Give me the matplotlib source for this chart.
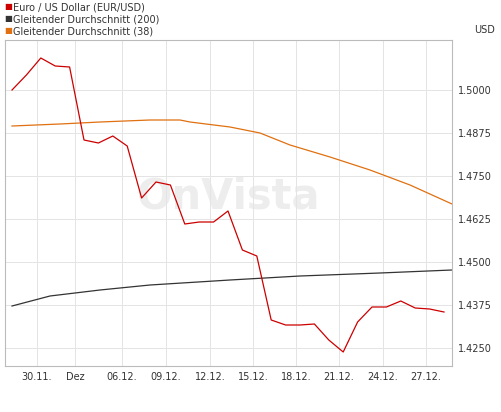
import matplotlib.pyplot as plt
import numpy as np

# pixel-read values, x in days (0 = 30.11.)
eur_y = [90, 75, 58, 66, 67, 140, 143, 136, 146, 198, 182, 185, 224, 222, 222, 211,
         250, 256, 320, 325, 325, 324, 340, 352, 322, 307, 307, 301, 308, 309, 312]
ma38_x = [12, 60, 100, 150, 180, 190, 230, 260, 290, 330, 370, 410, 452]
ma38_y = [126, 124, 122, 120, 120, 122, 127, 133, 145, 157, 170, 185, 204]
ma200_x = [12, 50, 100, 150, 230, 300, 380, 452]
ma200_y = [306, 296, 290, 285, 280, 276, 273, 270]
tick_labels = ['30.11.', 'Dez', '06.12.', '09.12.', '12.12.', '15.12.', '18.12.', '21.12.', '24.12.', '27.12.']
tick_px = [37, 75, 122, 166, 210, 253, 296, 339, 383, 426]
y_ticks = [1.4250, 1.4375, 1.4500, 1.4625, 1.4750, 1.4875, 1.5000]

def val(y):
    return 1.5 - (np.array(y) - 90) * 0.0125 / 43.0

def day(x):
    return (np.array(x) - 37) / 14.4

eur_x = day([12 + 14.4 * i for i in range(len(eur_y))])

fig = plt.figure(figsize=(5.01, 4.12), dpi=100)
ax = fig.add_axes([5 / 501, 1 - 366 / 412, 447 / 501, 326 / 412])
ax.set_xlim(day(5), day(452))
ax.set_ylim(val(366), val(40))

ax.plot(day(ma200_x), val(ma200_y), color='#333333', lw=0.9)
ax.plot(day(ma38_x), val(ma38_y), color='#e07010', lw=0.9)
ax.plot(eur_x, val(eur_y), color='#cc0000', lw=0.9)

ax.text(0.5, 0.52, 'OnVista', transform=ax.transAxes, fontsize=30, color='#ededed',
        ha='center', va='center', fontweight='bold', zorder=0)

ax.set_xticks(day(tick_px))
ax.set_xticklabels(tick_labels, fontsize=7, color='#333333')
ax.yaxis.tick_right()
ax.set_yticks(y_ticks)
ax.set_yticklabels(['%.4f' % v for v in y_ticks], fontsize=7, color='#333333')
ax.tick_params(length=0, pad=4)
ax.grid(True, color='#e4e4e4', lw=0.7)
for s in ax.spines.values():
    s.set_color('#bbbbbb')

fig.text(485 / 501, 1 - 30 / 412, 'USD', fontsize=7, color='#333333', ha='center', va='center')
legend = [('Euro / US Dollar (EUR/USD)', '#cc0000'),
          ('Gleitender Durchschnitt (200)', '#333333'),
          ('Gleitender Durchschnitt (38)', '#e07010')]
for i, (t, c) in enumerate(legend):
    y = 1 - (7 + 12 * i) / 412
    fig.text(4 / 501, y, '\u25a0', color=c, fontsize=6, va='center')
    fig.text(13 / 501, y, t, color='#333333', fontsize=7, va='center')

fig.savefig('out.png', dpi=100)
